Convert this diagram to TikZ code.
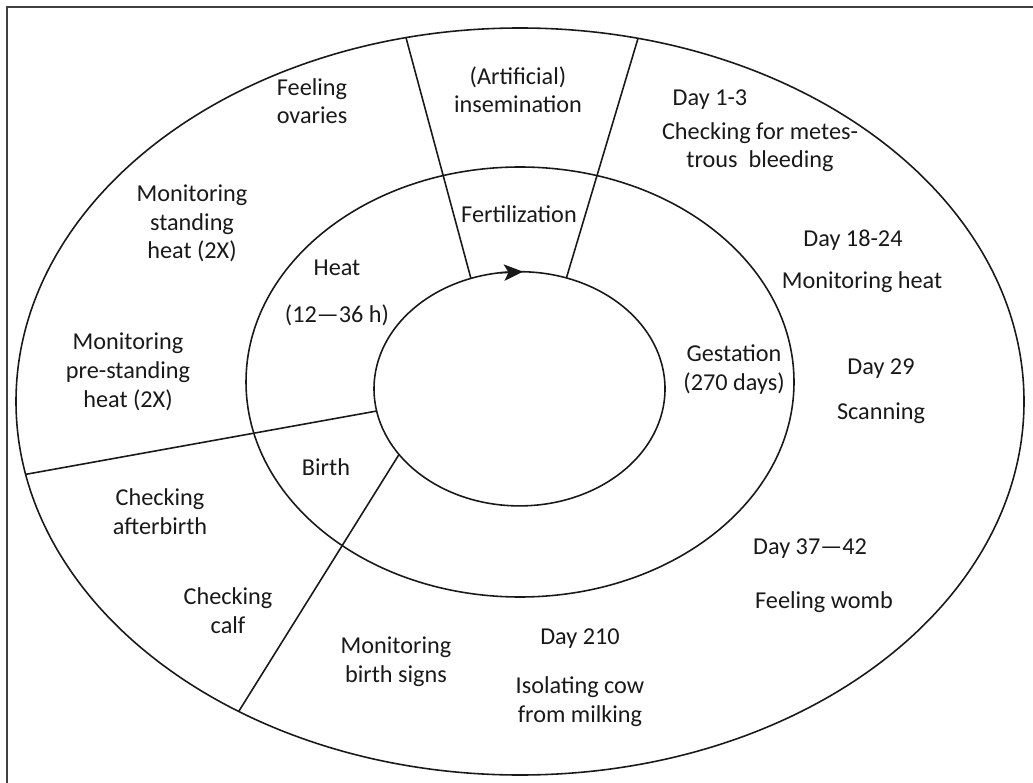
\documentclass[tikz,border=0pt]{standalone}
\usepackage{fontspec}
\setmainfont{Carlito}
\usetikzlibrary{arrows.meta}
\begin{document}
\begin{tikzpicture}[x=0.02cm,y=-0.02cm,
  ring/.style={line width=0.9pt, black!90},
  divider/.style={line width=0.9pt, black!90},
  frame/.style={line width=1.1pt, black!75},
  % anchor=base sits on the last line's baseline
  lbl/.style={font=\fontsize{13.8}{16.4}\selectfont, align=center, anchor=base,
              inner sep=0pt, text=black!90},
  cycarrow/.style={ring, -{Stealth[length=0.38cm, width=0.33cm, inset=0.09cm]}},
]
\useasboundingbox (0,0) rectangle (1033,783);

% page frame (left and top edges)
\draw[frame] (7,783) -- (7,7) -- (1033,7);

% three nested rings
\coordinate (oc) at (520,401.5);
\coordinate (mc) at (520,382);
\coordinate (ic) at (519.5,388.8);
\draw[ring] (oc) ellipse [x radius=504, y radius=373.5];
\draw[ring] (mc) ellipse [x radius=274, y radius=215];
\draw[ring] (ic) ellipse [x radius=145.5, y radius=117.1];

% sector dividers: inner ring to outer ring
\coordinate (d1i) at (470.9,278.4);  \coordinate (d1o) at (406,37.7);
\coordinate (d2i) at (566.4,278);    \coordinate (d2o) at (638,38.4);
\coordinate (d3i) at (376.8,411);    \coordinate (d3o) at (26,474.3);
\coordinate (d4i) at (399,454.5);    \coordinate (d4o) at (238.6,711.6);
\draw[divider] (d1i) -- (d1o);
\draw[divider] (d2i) -- (d2o);
\draw[divider] (d3i) -- (d3o);
\draw[divider] (d4i) -- (d4o);

% direction of the cycle
\coordinate (a1) at (500,272.8);
\coordinate (a2) at (523,271.7);
\draw[cycarrow] (a1) -- (a2);

% middle ring: phases
\node[lbl] (fert) at (519,223) {Fertilization};
\node[lbl] (heat) at (337,323) {Heat\\[10.8pt](12—36 h)};
\node[lbl] (birth) at (326,475) {Birth};
\node[lbl] (gest) at (734,390) {Gestation\\(270 days)};

% outer ring: actions
\node[lbl] (insem) at (518,113) {(Artificial)\\insemination};
\node[lbl] (ovar) at (312,124) {Feeling\\ovaries};
\node[lbl] (stand) at (192,259) {Monitoring\\standing\\heat (2X)};
\node[lbl] (prestand) at (128,407) {Monitoring\\pre-standing\\heat (2X)};
\node[lbl] (after) at (160,534) {Checking\\afterbirth};
\node[lbl] (calf) at (228,633) {Checking\\calf};
\node[lbl] (bsigns) at (396,682) {Monitoring\\birth signs};
\node[lbl] (d210) at (580,644) {Day 210};
\node[lbl] (isol) at (580,722) {Isolating cow\\from milking};
\node[lbl] (d37) at (810,554) {Day 37—42};
\node[lbl] (womb) at (824,608) {Feeling womb};
\node[lbl] (d29) at (881,375) {Day 29};
\node[lbl] (scan) at (881,419) {Scanning};
\node[lbl] (d18) at (853,247) {Day 18-24};
\node[lbl] (mheat) at (862,289) {Monitoring heat};
\node[lbl] (d1) at (710,106) {Day 1-3};
\node[lbl] (bleed) at (760,168) {Checking for metes-\\trous~~bleeding};
\end{tikzpicture}
\end{document}
